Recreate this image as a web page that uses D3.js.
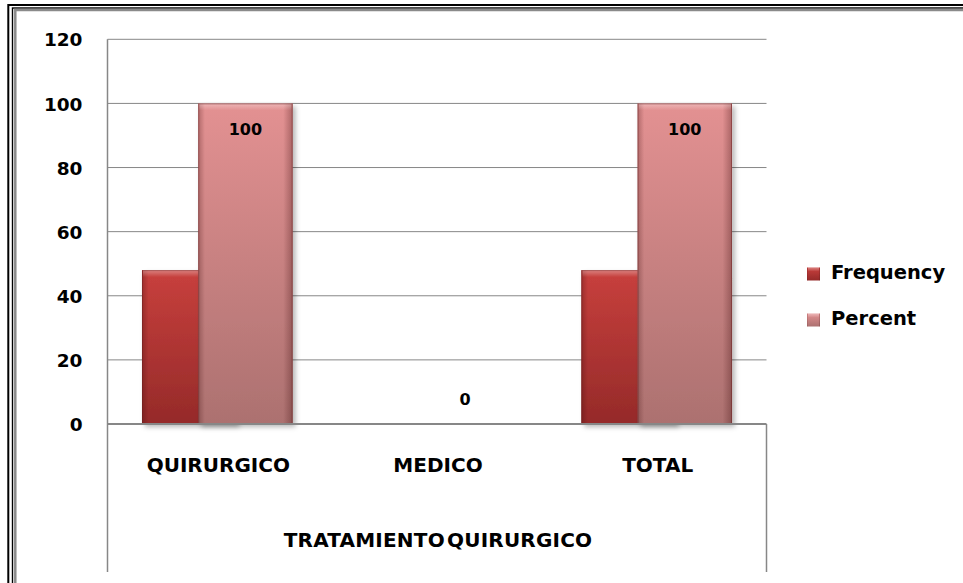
<!DOCTYPE html>
<html>
<head>
<meta charset="utf-8">
<script src="https://cdn.jsdelivr.net/npm/d3@7"></script>
<style>
  html, body { margin: 0; padding: 0; background: #fff; }
  svg { display: block; }
</style>
</head>
<body>
<svg id="chart" width="963" height="583"></svg>
<script>
// ---- data ----
const categories = ["QUIRURGICO", "MEDICO", "TOTAL"];
const seriesNames = ["Frequency", "Percent"];
const frequency = [48, 0, 48];
const percent = [100, 0, 100];
const yTicks = [0, 20, 40, 60, 80, 100, 120];
const xTitle = "TRATAMIENTO QUIRURGICO";

(function () {
const svg = d3.select("#chart");
const defs = svg.append("defs");

// gradients
function vGrad(id, c0, c1) {
  const g = defs.append("linearGradient").attr("id", id)
    .attr("x1", 0).attr("y1", 0).attr("x2", 0).attr("y2", 1);
  g.append("stop").attr("offset", "0%").attr("stop-color", c0);
  g.append("stop").attr("offset", "100%").attr("stop-color", c1);
}
vGrad("gFreq", "#c8403d", "#952a29");
vGrad("gPct", "#e39192", "#ac7170");
const edge = defs.append("linearGradient").attr("id", "gEdge")
  .attr("x1", 0).attr("y1", 0).attr("x2", 1).attr("y2", 0);
[["0%", 0.28], ["7%", 0.0], ["90%", 0.0], ["100%", 0.32]].forEach(([o, a]) =>
  edge.append("stop").attr("offset", o).attr("stop-color", "#3a0a0a").attr("stop-opacity", a));
const topHl = defs.append("linearGradient").attr("id", "gTop")
  .attr("x1", 0).attr("y1", 0).attr("x2", 0).attr("y2", 1);
topHl.append("stop").attr("offset", "0%").attr("stop-color", "#fff").attr("stop-opacity", 0.35);
topHl.append("stop").attr("offset", "100%").attr("stop-color", "#fff").attr("stop-opacity", 0.0);
const shadow = defs.append("filter").attr("id", "shadow")
  .attr("x", "-20%").attr("y", "-5%").attr("width", "150%").attr("height", "115%");
shadow.append("feDropShadow").attr("dx", 3).attr("dy", 3).attr("stdDeviation", 2.5)
  .attr("flood-color", "#000").attr("flood-opacity", 0.28);

// ---- frame border ----
svg.append("rect").attr("x", 8.3).attr("y", 5).attr("width", 1200).attr("height", 900)
  .attr("fill", "none").attr("stroke", "#000").attr("stroke-width", 2);
svg.append("rect").attr("x", 12.5).attr("y", 8).attr("width", 1200).attr("height", 900)
  .attr("fill", "none").attr("stroke", "#000").attr("stroke-width", 1.4);
svg.append("rect").attr("x", 15.3).attr("y", 10).attr("width", 1200).attr("height", 900)
  .attr("fill", "none").attr("stroke", "#8a8a8a").attr("stroke-width", 2.5);

// ---- scales ----
const pLeft = 107.5, pRight = 766.5, pTop = 39.3, zeroY = 424, bottomLine = 572;
const x = d3.scaleBand().domain(categories).range([pLeft, pRight]).padding(0);
const y = d3.scaleLinear().domain([0, 120]).range([zeroY, pTop]);

const bw = x.bandwidth();
const groupW = bw * 0.686;
const barW = bw * 0.43;
const xFreq = c => x(c) + bw / 2 - groupW / 2;
const xPct = c => x(c) + bw / 2 + groupW / 2 - barW;

// ---- gridlines ----
const grid = svg.append("g");
grid.selectAll("line").data(yTicks.filter(t => t > 0)).join("line")
  .attr("x1", pLeft).attr("x2", pRight)
  .attr("y1", d => y(d)).attr("y2", d => y(d))
  .attr("stroke", "#878787").attr("stroke-width", 1);

// y axis tick labels via d3 axis
const yAxis = svg.append("g").attr("transform", `translate(${pLeft},0)`)
  .call(d3.axisLeft(y).tickValues(yTicks).tickSize(0).tickPadding(25).tickFormat(d3.format("d")));
yAxis.select(".domain").remove();
yAxis.selectAll("text")
  .attr("font-family", "DejaVu Sans").attr("font-weight", "bold")
  .attr("font-size", 18.5).attr("fill", "#000").attr("dy", "0.36em");

// vertical lines (axis + table)
svg.append("line").attr("x1", pLeft).attr("x2", pLeft).attr("y1", pTop).attr("y2", bottomLine)
  .attr("stroke", "#878787").attr("stroke-width", 1.5);
svg.append("line").attr("x1", pRight).attr("x2", pRight).attr("y1", zeroY).attr("y2", bottomLine)
  .attr("stroke", "#878787").attr("stroke-width", 1.5);

// ---- bars ----
function drawBars(vals, xf, grad, cls) {
  const g = svg.append("g").attr("class", cls);
  const d = categories.map((c, i) => ({ c, v: vals[i] })).filter(e => e.v > 0);
  const bars = g.selectAll("g").data(d).join("g");
  bars.append("rect").attr("x", e => xf(e.c)).attr("y", e => y(e.v))
    .attr("width", barW).attr("height", e => y(0) - y(e.v))
    .attr("fill", `url(#${grad})`).attr("filter", "url(#shadow)");
  bars.append("rect").attr("x", e => xf(e.c)).attr("y", e => y(e.v))
    .attr("width", barW).attr("height", e => y(0) - y(e.v))
    .attr("fill", "url(#gEdge)");
  bars.append("rect").attr("x", e => xf(e.c) + 1).attr("y", e => y(e.v))
    .attr("width", barW - 2).attr("height", 7)
    .attr("fill", "url(#gTop)");
  bars.append("rect").attr("x", e => xf(e.c) + 0.5).attr("y", e => y(e.v) + 0.5)
    .attr("width", barW - 1).attr("height", e => y(0) - y(e.v) - 1)
    .attr("fill", "none").attr("stroke", "#6a2020").attr("stroke-opacity", 0.45).attr("stroke-width", 1);
}
drawBars(frequency, xFreq, "gFreq", "freq");
drawBars(percent, xPct, "gPct", "pct");

// baseline
svg.append("line").attr("x1", pLeft).attr("x2", pRight).attr("y1", zeroY).attr("y2", zeroY)
  .attr("stroke", "#878787").attr("stroke-width", 2);

// data labels (Percent series)
svg.append("g").selectAll("text").data(categories.map((c, i) => ({ c, v: percent[i] }))).join("text")
  .attr("x", e => xPct(e.c) + barW / 2)
  .attr("y", e => e.v > 0 ? y(e.v) + 32 : y(0) - 19)
  .attr("text-anchor", "middle")
  .attr("font-family", "DejaVu Sans").attr("font-weight", "bold")
  .attr("font-size", 16)
  .attr("fill", "#000").text(e => e.v);

// category labels
svg.append("g").selectAll("text").data(categories).join("text")
  .attr("x", c => x(c) + bw / 2 + 1)
  .attr("y", 472)
  .attr("text-anchor", "middle")
  .attr("font-family", "DejaVu Sans").attr("font-weight", "bold")
  .attr("font-size", 20)
  .attr("fill", "#000").text(c => c);

// axis title
svg.append("text")
  .attr("x", (pLeft + pRight) / 2 + 1).attr("y", 547)
  .attr("text-anchor", "middle")
  .attr("font-family", "DejaVu Sans").attr("font-weight", "bold")
  .attr("font-size", 20).attr("letter-spacing", 0.2).attr("word-spacing", -5)
  .attr("fill", "#000").text(xTitle);

// ---- legend ----
const legend = svg.append("g");
const lg = legend.selectAll("g").data(seriesNames).join("g")
  .attr("transform", (d, i) => `translate(807,${267.5 + i * 46})`);
lg.append("rect").attr("width", 13).attr("height", 13)
  .attr("fill", (d, i) => i === 0 ? "url(#gFreq)" : "url(#gPct)");
lg.append("rect").attr("width", 13).attr("height", 13).attr("fill", "url(#gEdge)");
lg.append("rect").attr("x", 1).attr("width", 11).attr("height", 4).attr("fill", "url(#gTop)");
lg.append("text").attr("x", 24).attr("y", 11.5)
  .attr("font-family", "DejaVu Sans").attr("font-weight", "bold")
  .attr("font-size", 19.5)
  .attr("fill", "#000").text(d => d);
})();
</script>
</body>
</html>
